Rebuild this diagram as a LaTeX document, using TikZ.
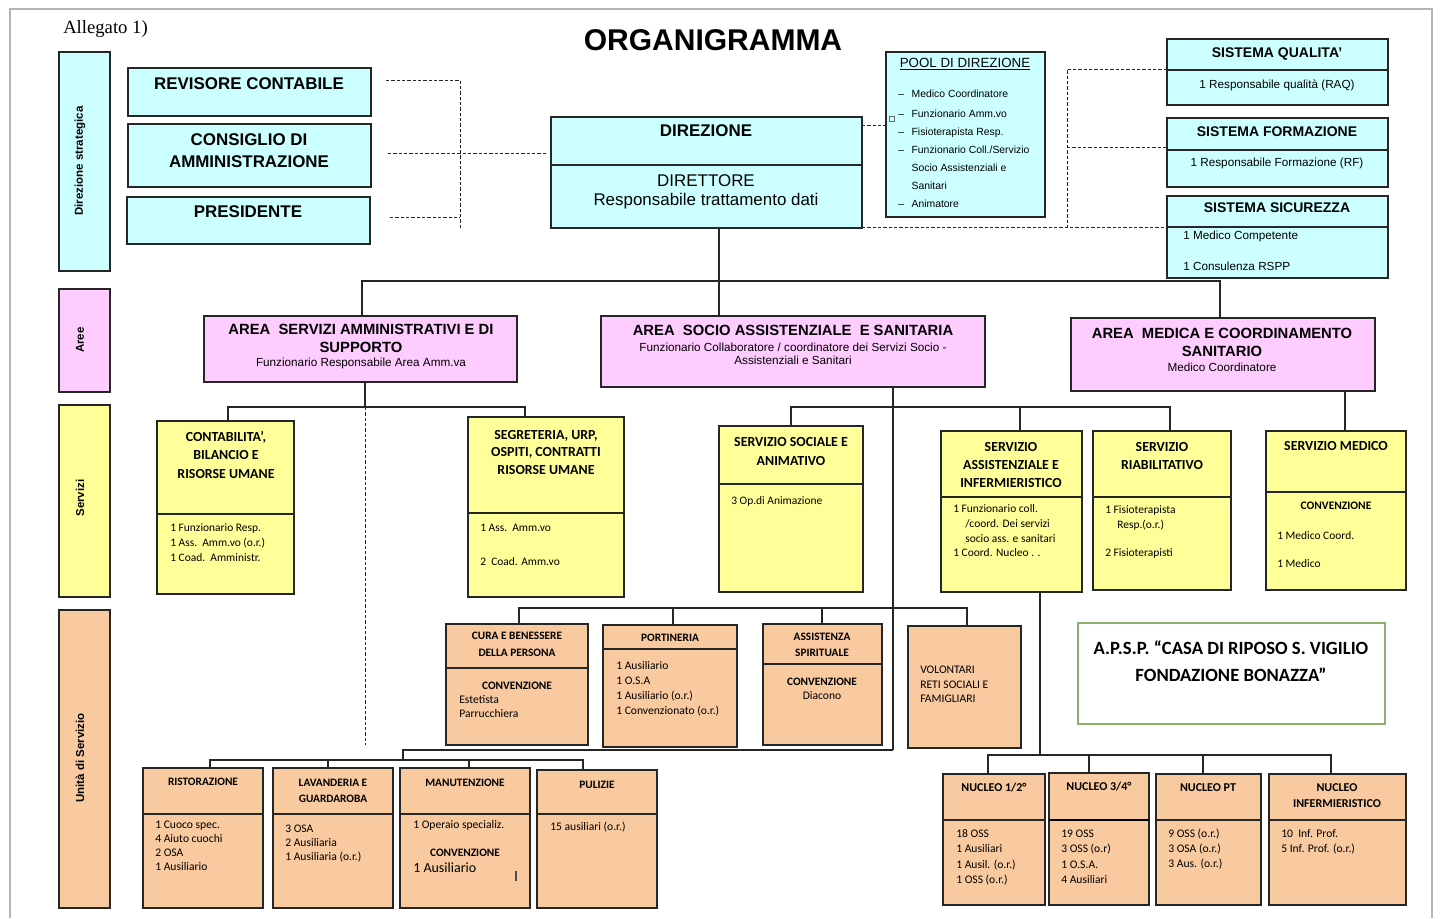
\documentclass[tikz,border=0pt]{standalone}
\usepackage{fontspec}
\setmainfont{Liberation Sans}
\newfontfamily\carl{Carlito}
\newfontfamily\timesf{Liberation Serif}
\definecolor{cy}{HTML}{CCFFFF}
\definecolor{pk}{HTML}{FFCCFF}
\definecolor{yl}{HTML}{FFFF99}
\definecolor{pe}{HTML}{F9C9A0}
\definecolor{gn}{HTML}{8DB06B}
\definecolor{frm}{HTML}{B4B4B4}
\newcounter{tn}
\newcommand\fz[2]{\fontsize{#1}{#2}\selectfont}
\newcommand\bx[6]{\node[bx,fill=#6,minimum width={(#4-#2)*0.75pt},minimum height={(#5-#3)*0.75pt}] (#1) at (#2,#3) {};}
\newcommand\dv[2]{\draw[dvl] (#1.west |- 0,#2) -- (#1.east |- 0,#2);}
\newcommand\T[4]{\stepcounter{tn}\node[#1] (t\arabic{tn}) at (#2,#3) {#4};}
\newcommand\dsh[1]{\makebox[10pt][l]{#1}}
\begin{document}
\begin{tikzpicture}[x=0.75pt,y=-0.75pt,
  bx/.style={draw=black!85,line width=0.9pt,inner sep=0pt,outer sep=0pt,anchor=north west},
  dvl/.style={draw=black!85,line width=0.9pt},
  ln/.style={draw=black!85,line width=0.8pt},
  dsh/.style={draw=black!85,line width=0.7pt,dash pattern=on 2.4pt off 1.6pt},
  ctr/.style={anchor=mid,inner sep=0pt},
  lft/.style={anchor=mid west,inner sep=0pt},
  fBig/.style={font=\bfseries\fz{12.7}{15}},
  fDir/.style={font=\fz{12.7}{15}},
  fPoolT/.style={font=\fz{10}{12}},
  fPool/.style={font=\fz{7.8}{9}},
  fSysT/.style={font=\bfseries\fz{10.5}{12}},
  fSys/.style={font=\fz{8.8}{10}},
  fAreaT/.style={font=\bfseries\fz{11.1}{13}},
  fAreaS/.style={font=\fz{8.8}{10}},
  fSvT/.style={font=\carl\bfseries\fz{10.4}{12}},
  fSv/.style={font=\carl\fz{8.6}{10}},
  fSvB/.style={font=\carl\bfseries\fz{8.6}{10}},
  fUT/.style={font=\carl\bfseries\fz{8.5}{10}},
  fU/.style={font=\carl\fz{8.7}{10}},
  fNT/.style={font=\carl\bfseries\fz{9}{11}},
  fSide/.style={font=\bfseries\fz{8.6}{10}}
]
\useasboundingbox (0,0) rectangle (1442,918);
\fill[white] (0,0) rectangle (1442,918);
% page frame
\draw[frm,line width=2.2pt] (10,918) -- (10,9) -- (1432,9) -- (1432,918);

% header
\T{lft,font=\timesf\fz{14}{16}}{63}{30}{Allegato 1)}
\T{ctr,font=\bfseries\fz{22.5}{26}}{713}{47}{ORGANIGRAMMA}

% side bands
\bx{sd1}{59}{52}{110}{271}{cy}
\bx{sd2}{59}{289}{110}{392}{pk}
\bx{sd3}{59}{405}{110}{597}{yl}
\bx{sd4}{59}{610}{110}{908}{pe}
\node[fSide,rotate=90,inner sep=0pt] (sdl1) at (80,161) {Direzione strategica};
\node[fSide,rotate=90,inner sep=0pt] (sdl2) at (80,340) {Aree};
\node[fSide,rotate=90,inner sep=0pt] (sdl3) at (80,498) {Servizi};
\node[fSide,rotate=90,inner sep=0pt] (sdl4) at (80,758) {Unità di Servizio};

% direzione strategica boxes
\bx{rev}{128}{68}{371}{116}{cy}
\T{ctr,fBig}{249}{86}{REVISORE CONTABILE}
\bx{cda}{128}{124}{371}{187}{cy}
\T{ctr,fBig}{249}{142}{CONSIGLIO DI}
\T{ctr,fBig}{249}{164}{AMMINISTRAZIONE}
\bx{pres}{127}{197}{370}{244}{cy}
\T{ctr,fBig}{248}{214}{PRESIDENTE}

\bx{dir}{551}{117}{862}{228}{cy}
\dv{dir}{165}
\T{ctr,fBig}{706}{133}{DIREZIONE}
\T{ctr,fDir}{706}{183}{DIRETTORE}
\T{ctr,fDir}{706}{202}{Responsabile trattamento dati}

\bx{pool}{886}{52}{1045}{217}{cy}
\T{ctr,fPoolT}{965}{64}{\underline{POOL DI DIREZIONE}}
\T{lft,fPool}{898}{94}{\dsh{–}Medico Coordinatore}
\T{lft,fPool}{898}{114}{\dsh{–}Funzionario Amm.vo}
\T{lft,fPool}{898}{132}{\dsh{–}Fisioterapista Resp.}
\T{lft,fPool}{898}{150}{\dsh{–}Funzionario Coll./Servizio}
\T{lft,fPool}{898}{168}{\dsh{}Socio Assistenziali e}
\T{lft,fPool}{898}{186}{\dsh{}Sanitari}
\T{lft,fPool}{898}{204}{\dsh{–}Animatore}
\draw[black!60,line width=0.4pt] (889,116) rectangle (894,121);

\bx{sq}{1167}{39}{1388}{105}{cy}
\dv{sq}{70}
\T{ctr,fSysT}{1277}{54}{SISTEMA QUALITA’}
\T{ctr,fSys}{1277}{85}{1 Responsabile qualità (RAQ)}
\bx{sf}{1167}{118}{1388}{187}{cy}
\dv{sf}{150}
\T{ctr,fSysT}{1277}{133}{SISTEMA FORMAZIONE}
\T{ctr,fSys}{1277}{163}{1 Responsabile Formazione (RF)}
\bx{ss}{1167}{196}{1388}{278}{cy}
\dv{ss}{227}
\T{ctr,fSysT}{1277}{209}{SISTEMA SICUREZZA}
\T{lft,fSys}{1183}{236}{1 Medico Competente}
\T{lft,fSys}{1183}{267}{1 Consulenza RSPP}

% aree
\bx{a1}{204}{316}{517}{382}{pk}
\T{ctr,fAreaT}{361}{331}{AREA\ \ SERVIZI AMMINISTRATIVI E DI}
\T{ctr,fAreaT}{361}{349}{SUPPORTO}
\T{ctr,fAreaS}{361}{363}{Funzionario Responsabile Area Amm.va}
\bx{a2}{601}{316}{985}{387}{pk}
\T{ctr,fAreaT}{793}{332}{AREA\ \ SOCIO ASSISTENZIALE\ \ E SANITARIA}
\T{ctr,fAreaS}{793}{348}{Funzionario Collaboratore / coordinatore dei Servizi Socio -}
\T{ctr,fAreaS}{793}{361}{Assistenziali e Sanitari}
\bx{a3}{1071}{318}{1375}{391}{pk}
\T{ctr,fAreaT}{1222}{335}{AREA\ \ MEDICA E COORDINAMENTO}
\T{ctr,fAreaT}{1222}{353}{SANITARIO}
\T{ctr,fAreaS}{1222}{368}{Medico Coordinatore}

% servizi
\bx{c1}{157}{421}{294}{594}{yl}
\dv{c1}{514}
\T{ctr,fSvT}{226}{438}{CONTABILITA’,}
\T{ctr,fSvT}{226}{456}{BILANCIO E}
\T{ctr,fSvT}{226}{475}{RISORSE UMANE}
\T{lft,fSv}{170}{528}{1 Funzionario Resp.}
\T{lft,fSv}{170}{543}{1 Ass.\ \ Amm.vo (o.r.)}
\T{lft,fSv}{170}{558}{1 Coad.\ \ Amministr.}
\bx{c2}{468}{417}{624}{597}{yl}
\dv{c2}{513}
\T{ctr,fSvT}{546}{436}{SEGRETERIA, URP,}
\T{ctr,fSvT}{546}{453}{OSPITI, CONTRATTI}
\T{ctr,fSvT}{546}{471}{RISORSE UMANE}
\T{lft,fSv}{480}{528}{1 Ass.\ \ Amm.vo}
\T{lft,fSv}{480}{562}{2\ \ Coad. Amm.vo}
\bx{c3}{719}{426}{863}{592}{yl}
\dv{c3}{484}
\T{ctr,fSvT}{791}{443}{SERVIZIO SOCIALE E}
\T{ctr,fSvT}{791}{462}{ANIMATIVO}
\T{lft,fSv}{731}{501}{3 Op.di Animazione}
\bx{c4}{941}{431}{1082}{592}{yl}
\dv{c4}{497}
\T{ctr,fSvT}{1011}{448}{SERVIZIO}
\T{ctr,fSvT}{1011}{466}{ASSISTENZIALE E}
\T{ctr,fSvT}{1011}{484}{INFERMIERISTICO}
\T{lft,fSv}{953}{509}{1 Funzionario coll.}
\T{lft,fSv}{965}{524}{/coord. Dei servizi}
\T{lft,fSv}{965}{539}{socio ass. e sanitari}
\T{lft,fSv}{953}{553}{1 Coord. Nucleo . .}
\bx{c5}{1093}{431}{1231}{590}{yl}
\dv{c5}{497}
\T{ctr,fSvT}{1162}{448}{SERVIZIO}
\T{ctr,fSvT}{1162}{466}{RIABILITATIVO}
\T{lft,fSv}{1105}{510}{1 Fisioterapista}
\T{lft,fSv}{1117}{525}{Resp.(o.r.)}
\T{lft,fSv}{1105}{553}{2 Fisioterapisti}
\bx{c6}{1266}{431}{1406}{590}{yl}
\dv{c6}{492}
\T{ctr,fSvT}{1336}{447}{SERVIZIO MEDICO}
\T{ctr,fSvB}{1336}{506}{CONVENZIONE}
\T{lft,fSv}{1277}{536}{1 Medico Coord.}
\T{lft,fSv}{1277}{564}{1 Medico}

% unita row 1
\bx{u1}{446}{624}{588}{745}{pe}
\dv{u1}{668}
\T{ctr,fUT}{517}{636}{CURA E BENESSERE}
\T{ctr,fUT}{517}{653}{DELLA PERSONA}
\T{ctr,fUT}{517}{686}{CONVENZIONE}
\T{lft,fU}{459}{700}{Estetista}
\T{lft,fU}{459}{714}{Parrucchiera}
\bx{u2}{603}{625}{737}{747}{pe}
\dv{u2}{649}
\T{ctr,fUT}{670}{638}{PORTINERIA}
\T{lft,fU}{616}{666}{1 Ausiliario}
\T{lft,fU}{616}{681}{1 O.S.A}
\T{lft,fU}{616}{696}{1 Ausiliario (o.r.)}
\T{lft,fU}{616}{711}{1 Convenzionato (o.r.)}
\bx{u3}{763}{624}{882}{745}{pe}
\dv{u3}{664}
\T{ctr,fUT}{822}{637}{ASSISTENZA}
\T{ctr,fUT}{822}{653}{SPIRITUALE}
\T{ctr,fUT}{822}{682}{CONVENZIONE}
\T{ctr,fU}{822}{696}{Diacono}
\bx{u4}{908}{626}{1021}{748}{pe}
\T{lft,fU}{920}{670}{VOLONTARI}
\T{lft,fU}{920}{685}{RETI SOCIALI E}
\T{lft,fU}{920}{699}{FAMIGLIARI}

% unita row 2
\bx{b1}{143}{768}{263}{908}{pe}
\dv{b1}{814}
\T{ctr,fUT}{203}{782}{RISTORAZIONE}
\T{lft,fU}{155}{825}{1 Cuoco spec.}
\T{lft,fU}{155}{839}{4 Aiuto cuochi}
\T{lft,fU}{155}{853}{2 OSA}
\T{lft,fU}{155}{867}{1 Ausiliario}
\bx{b2}{273}{768}{393}{908}{pe}
\dv{b2}{814}
\T{ctr,fUT}{333}{783}{LAVANDERIA E}
\T{ctr,fUT}{333}{799}{GUARDAROBA}
\T{lft,fU}{285}{829}{3 OSA}
\T{lft,fU}{285}{843}{2 Ausiliaria}
\T{lft,fU}{285}{857}{1 Ausiliaria (o.r.)}
\bx{b3}{400}{768}{530}{908}{pe}
\dv{b3}{814}
\T{ctr,fUT}{465}{783}{MANUTENZIONE}
\T{lft,fU}{413}{825}{1 Operaio specializ.}
\T{ctr,fUT}{465}{853}{CONVENZIONE}
\T{lft,font=\carl\fz{10.5}{12}}{413}{869}{1 Ausiliario}
\draw[black!70,line width=0.8pt] (516,871) -- (516,881);
\bx{b4}{537}{770}{657}{908}{pe}
\dv{b4}{814}
\T{ctr,fUT}{597}{785}{PULIZIE}
\T{lft,fU}{550}{827}{15 ausiliari (o.r.)}

% nuclei
\bx{n1}{943}{774}{1045}{905}{pe}
\dv{n1}{820}
\T{ctr,fNT}{994}{788}{NUCLEO 1/2°}
\T{lft,fU}{956}{834}{18 OSS}
\T{lft,fU}{956}{849}{1 Ausiliari}
\T{lft,fU}{956}{865}{1 Ausil. (o.r.)}
\T{lft,fU}{956}{880}{1 OSS (o.r.)}
\bx{n2}{1049}{773}{1149}{905}{pe}
\draw[black,line width=1.5pt] (n2.west |- 0,820) -- (n2.east |- 0,820);
\T{ctr,fNT}{1099}{787}{NUCLEO 3/4°}
\T{lft,fU}{1061}{834}{19 OSS}
\T{lft,fU}{1061}{849}{3 OSS (o.r)}
\T{lft,fU}{1061}{865}{1 O.S.A.}
\T{lft,fU}{1061}{880}{4 Ausiliari}
\bx{n3}{1156}{774}{1261}{905}{pe}
\dv{n3}{820}
\T{ctr,fNT}{1208}{788}{NUCLEO PT}
\T{lft,fU}{1168}{834}{9 OSS (o.r.)}
\T{lft,fU}{1168}{849}{3 OSA (o.r.)}
\T{lft,fU}{1168}{864}{3 Aus. (o.r.)}
\bx{n4}{1269}{774}{1406}{905}{pe}
\dv{n4}{820}
\T{ctr,fNT}{1337}{788}{NUCLEO}
\T{ctr,fNT}{1337}{804}{INFERMIERISTICO}
\T{lft,fU}{1281}{834}{10\ \ Inf. Prof.}
\T{lft,fU}{1281}{849}{5 Inf. Prof. (o.r.)}

% APSP
\node[bx,draw=gn,line width=1.4pt,fill=none,minimum width={307*0.75pt},minimum height={101*0.75pt}] (apsp) at (1078,623) {};
\T{ctr,font=\carl\bfseries\fz{14}{17}}{1231}{651}{A.P.S.P. “CASA DI RIPOSO S. VIGILIO}
\T{ctr,font=\carl\bfseries\fz{14}{17}}{1231}{678}{FONDAZIONE BONAZZA”}

% ---- connectors ----
\coordinate (bA) at (362,281);
\coordinate (bB) at (719,281);
\coordinate (bC) at (1220,281);
\draw[ln] (dir.south -| bB) -- (bB);
\draw[ln] (bA |- a1.north) -- (bA) -- (bC) -- (bC |- a3.north);
\draw[ln] (bB) -- (bB |- a2.north);

\coordinate (s1) at (365,407);
\coordinate (s1l) at (228,407);
\coordinate (s1r) at (525,407);
\coordinate (dE) at (365,745);
\draw[ln] (a1.south -| s1) -- (s1);
\draw[ln] (s1l |- c1.north) -- (s1l) -- (s1r) -- (s1r |- c2.north);
\draw[dsh] (s1) -- (dE);

\coordinate (v) at (893,407);
\coordinate (s2l) at (791,407);
\coordinate (s2r) at (1170,407);
\coordinate (s2m) at (1020,407);
\coordinate (vb) at (893,750);
\draw[ln] (a2.south -| v) -- (vb);
\draw[ln] (s2l |- c3.north) -- (s2l) -- (s2r) -- (s2r |- c5.north);
\draw[ln] (s2m) -- (s2m |- c4.north);

\coordinate (w1) at (519,608);
\coordinate (w2) at (673,608);
\coordinate (w3) at (822,608);
\coordinate (w4) at (967,608);
\draw[ln] (w1 |- u1.north) -- (w1) -- (w4) -- (w4 |- u4.north);
\draw[ln] (w2) -- (w2 |- u2.north);
\draw[ln] (w3) -- (w3 |- u3.north);

\coordinate (z0) at (403,750);
\coordinate (z1) at (403,760);
\coordinate (zl) at (210,760);
\coordinate (zr) at (583,760);
\coordinate (zm2) at (328,760);
\coordinate (zm3) at (469,760);
\draw[ln] (vb) -- (z0) -- (z1);
\draw[ln] (zl |- b1.north) -- (zl) -- (zr) -- (zr |- b4.north);
\draw[ln] (zm2) -- (zm2 |- b2.north);
\draw[ln] (zm3) -- (zm3 |- b3.north);

\coordinate (m) at (1345,400);
\draw[ln] (a3.south -| m) -- (c6.north -| m);

\coordinate (q) at (1040,755);
\coordinate (ql) at (988,755);
\coordinate (qr) at (1331,755);
\coordinate (q2) at (1089,755);
\coordinate (q3) at (1203,755);
\draw[ln] (c4.south -| q) -- (q);
\draw[ln] (ql |- n1.north) -- (ql) -- (qr) -- (qr |- n4.north);
\draw[ln] (q2) -- (q2 |- n2.north);
\draw[ln] (q3) -- (q3 |- n3.north);

% dashed links
\coordinate (r1) at (386,80);
\coordinate (r1e) at (460,80);
\coordinate (r4) at (460,229);
\coordinate (r2) at (388,153);
\coordinate (r2e) at (546,153);
\coordinate (r3) at (390,217);
\draw[dsh] (r1) -- (r1e) -- (r4);
\draw[dsh] (r2) -- (r2e);
\draw[dsh] (r3) -- (r3 -| r1e);

\coordinate (pj) at (870,125);
\draw[dsh] (dir.east |- pj) -- (pool.west |- pj);
\coordinate (k1) at (1067,69);
\coordinate (k2) at (1067,147);
\coordinate (k3) at (1067,227);
\draw[dsh] (sq.west |- k1) -- (k1) -- (k3);
\draw[dsh] (k2) -- (sf.west |- k2);
\draw[dsh] (dir.east |- k3) -- (ss.west |- k3);
\end{tikzpicture}
\end{document}
